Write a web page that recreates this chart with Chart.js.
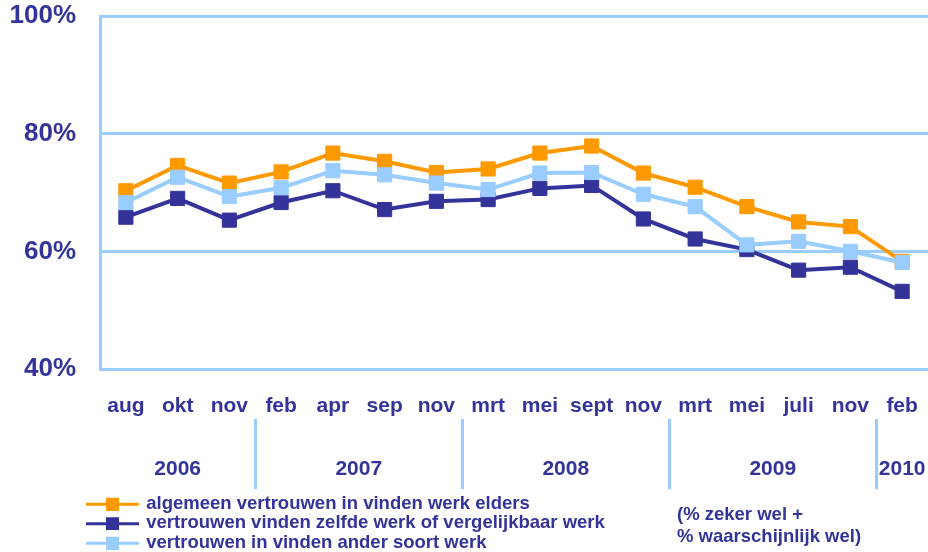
<!DOCTYPE html>
<html>
<head>
<meta charset="utf-8">
<script src="https://cdn.jsdelivr.net/npm/chart.js@4.4.1/dist/chart.umd.min.js"></script>
<style>
  html, body { margin: 0; padding: 0; background: #ffffff; }
  #wrap { position: relative; width: 928px; height: 552px; }
</style>
</head>
<body>
<div id="wrap"><canvas id="c"></canvas></div>
<script>
// ---- data ----
const categories = ['aug','okt','nov','feb','apr','sep','nov','mrt','mei','sept','nov','mrt','mei','juli','nov','feb'];
const algemeen = [70.3, 74.6, 71.6, 73.5, 76.7, 75.3, 73.4, 74.0, 76.7, 77.9, 73.3, 70.9, 67.6, 65.0, 64.2, 58.3];
const zelfdeWerk = [65.8, 69.0, 65.3, 68.3, 70.3, 67.1, 68.5, 68.8, 70.7, 71.2, 65.5, 62.1, 60.3, 56.8, 57.3, 53.2];
const anderSoort = [68.3, 72.6, 69.3, 70.8, 73.7, 73.0, 71.6, 70.5, 73.3, 73.4, 69.7, 67.6, 61.1, 61.7, 60.0, 58.1];
const years = ['2006', '2007', '2008', '2009', '2010'];
const yearFirstIndex = [0, 3, 7, 11, 15];
const yearLastIndex = [2, 6, 10, 14, 15];
const seriesNames = [
  'algemeen vertrouwen in vinden werk elders',
  'vertrouwen vinden zelfde werk of vergelijkbaar werk',
  'vertrouwen in vinden ander soort werk'
];
const noteLines = ['(% zeker wel +', '% waarschijnlijk wel)'];
const yMin = 40, yMax = 100, yStep = 20;

// ---- styles ----
const ORANGE = '#FF9900', NAVY = '#333399', LIGHT = '#99CCFF';
const FONT = '"Liberation Sans", Arial, sans-serif';
const colors = [ORANGE, NAVY, LIGHT];
const CLEAR = 'rgba(0,0,0,0)';

function legendSymbol(color) {
  const cv = document.createElement('canvas');
  cv.width = 54; cv.height = 14;
  const g = cv.getContext('2d');
  g.fillStyle = color;
  g.fillRect(0, 6, 54, 3);
  g.fillRect(21, 1, 13, 13);
  return cv;
}

const yearTickValues = [];
const yearTickLabel = {};
const separatorValues = new Set();
years.forEach((y, i) => {
  const centre = (yearFirstIndex[i] + yearLastIndex[i]) / 2 + 0.5;
  yearTickValues.push(centre);
  yearTickLabel[centre] = y;
  if (yearFirstIndex[i] > 0) {
    yearTickValues.push(yearFirstIndex[i]);
    separatorValues.add(yearFirstIndex[i]);
  }
});
yearTickValues.sort((a, b) => a - b);

const layoutFix = {
  id: 'layoutFix',
  afterLayout(chart) {
    const L = chart.legend;
    if (!L) return;
    const w = L.width, h = L.height;
    L.left = 86; L.right = L.left + w;
    L.top = 493.5; L.bottom = L.top + h;
  },
  afterDraw(chart) {
    const ctx = chart.ctx;
    ctx.save();
    ctx.fillStyle = NAVY;
    ctx.font = 'bold 18.5px ' + FONT;
    ctx.textBaseline = 'middle';
    ctx.textAlign = 'left';
    ctx.fillText(noteLines[0], 677, 515);
    ctx.fillText(noteLines[1], 677, 537);
    ctx.restore();
  }
};

const mkDataset = (label, data, color, order) => ({
  label, data,
  borderColor: color, backgroundColor: color,
  pointBackgroundColor: color, pointBorderColor: color,
  borderWidth: 4, pointStyle: 'rect', pointRadius: 10, pointBorderWidth: 1,
  pointHoverRadius: 10, tension: 0, order, xAxisID: 'x', yAxisID: 'y'
});

const noSidePadding = (scale) => { scale.paddingLeft = 0; scale.paddingRight = 0; };

new Chart(document.getElementById('c'), {
  type: 'line',
  data: {
    labels: categories,
    datasets: [
      mkDataset(seriesNames[0], algemeen, ORANGE, 2),
      mkDataset(seriesNames[1], zelfdeWerk, NAVY, 3),
      mkDataset(seriesNames[2], anderSoort, LIGHT, 1)
    ]
  },
  options: {
    responsive: true,
    maintainAspectRatio: false,
    animation: false,
    layout: { autoPadding: false, padding: { top: 16, right: 0, left: 0, bottom: 0 } },
    plugins: {
      tooltip: { enabled: false },
      legend: {
        position: 'bottom',
        align: 'start',
        fullSize: false,
        labels: {
          usePointStyle: true,
          pointStyleWidth: 50,
          padding: 1,
          color: NAVY,
          font: { family: FONT, size: 18.5, weight: 'bold' },
          generateLabels: () => seriesNames.map((n, i) => ({
            text: n,
            fillStyle: colors[i],
            strokeStyle: colors[i],
            fontColor: NAVY,
            lineWidth: 0,
            pointStyle: legendSymbol(colors[i]),
            datasetIndex: i,
            hidden: false
          }))
        }
      }
    },
    scales: {
      x: {
        type: 'category',
        position: 'bottom',
        offset: true,
        afterFit: noSidePadding,
        grid: { display: true, drawOnChartArea: false, drawTicks: true, tickLength: 25, tickColor: CLEAR, color: CLEAR },
        border: { display: true, color: LIGHT, width: 3 },
        ticks: {
          color: NAVY,
          font: { family: FONT, size: 21, weight: 'bold' },
          padding: 0,
          maxRotation: 0,
          autoSkip: false
        }
      },
      years: {
        type: 'linear',
        position: 'bottom',
        min: 0,
        max: categories.length,
        afterBuildTicks: (scale) => {
          scale.ticks = yearTickValues.map(v => ({ value: v }));
        },
        afterFit: (scale) => { noSidePadding(scale); scale.height = 64.3; },
        grid: {
          display: true,
          drawOnChartArea: false,
          drawTicks: true,
          tickLength: 70,
          lineWidth: 3,
          color: (ctx) => (ctx.tick && separatorValues.has(ctx.tick.value)) ? LIGHT : CLEAR,
          tickColor: (ctx) => (ctx.tick && separatorValues.has(ctx.tick.value)) ? LIGHT : CLEAR
        },
        border: { display: false },
        ticks: {
          color: NAVY,
          font: { family: FONT, size: 21, weight: 'bold' },
          padding: -32.8,
          maxRotation: 0,
          autoSkip: false,
          callback: (v) => yearTickLabel[v] || ''
        }
      },
      y: {
        type: 'linear',
        min: yMin,
        max: yMax,
        afterFit: (scale) => { scale.width = 100; },
        grid: { color: LIGHT, lineWidth: 3, drawTicks: true, tickLength: 24, tickColor: CLEAR },
        border: { display: true, color: LIGHT, width: 3 },
        ticks: {
          stepSize: yStep,
          color: NAVY,
          padding: 0,
          font: { family: FONT, size: 26, weight: 'bold' },
          callback: (v) => v + '%'
        }
      }
    }
  },
  plugins: [layoutFix]
});
</script>
</body>
</html>
